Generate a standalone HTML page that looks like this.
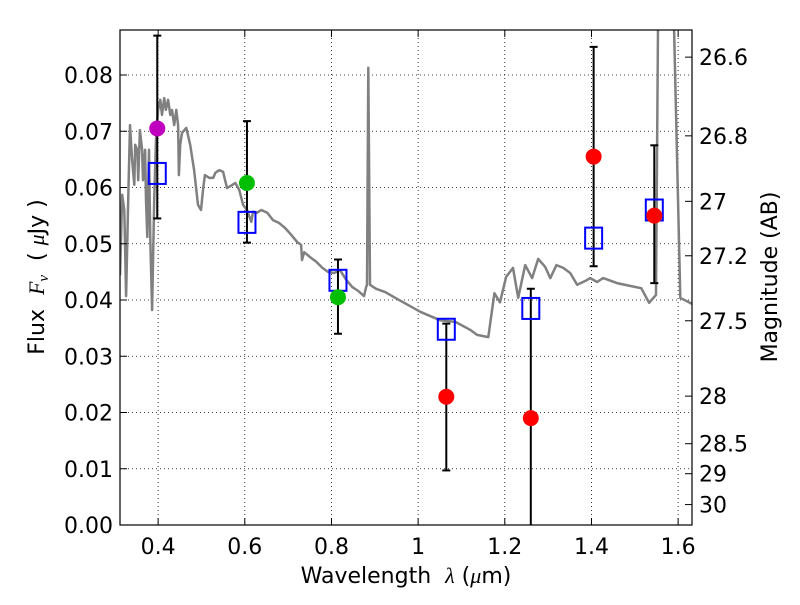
<!DOCTYPE html>
<html><head><meta charset="utf-8"><style>
body{margin:0;background:#fff}
svg text{font-family:"DejaVu Sans","Liberation Sans",sans-serif;fill:#000;white-space:pre}
</style></head><body>
<svg id="c" width="800" height="600" xmlns="http://www.w3.org/2000/svg">
<defs><clipPath id="clip"><rect x="120" y="30" width="572" height="495"/></clipPath></defs>
<rect width="800" height="600" fill="#fff"/>
<g id="grid"></g>
<g id="spec" clip-path="url(#clip)"></g>
<g id="marks" clip-path="url(#clip)"></g>
<rect x="120" y="30" width="572" height="495" fill="none" stroke="#000" stroke-width="1.2"/>
<g id="axes"></g>
<text x="406" y="583" font-size="22" text-anchor="middle" xml:space="preserve">Wavelength  <tspan font-style="italic" font-family="Liberation Serif">λ</tspan> (<tspan font-style="italic" font-family="Liberation Serif">μ</tspan>m)</text>
<text transform="translate(44,277) rotate(-90)" font-size="22" text-anchor="middle" xml:space="preserve">Flux  <tspan font-style="italic" font-family="Liberation Serif">F<tspan font-size="15" dy="4">ν</tspan></tspan><tspan dy="-4">  ( </tspan><tspan font-style="italic" font-family="Liberation Serif">μ</tspan>Jy )</text>
<text transform="translate(777,277) rotate(-90)" font-size="22" text-anchor="middle">Magnitude (AB)</text>
</svg>
<script>
const specWl=[0.312,0.317,0.322,0.326,0.331,0.335,0.340,0.345,0.347,0.352,0.354,0.358,0.363,0.365,0.370,0.372,0.375,0.379,0.382,0.386,0.391,0.395,0.400,0.405,0.409,0.414,0.418,0.423,0.428,0.432,0.437,0.442,0.446,0.448,0.451,0.455,0.465,0.474,0.483,0.492,0.499,0.504,0.508,0.518,0.527,0.532,0.541,0.550,0.559,0.568,0.578,0.587,0.596,0.605,0.615,0.619,0.628,0.638,0.652,0.665,0.679,0.693,0.707,0.721,0.730,0.732,0.737,0.751,0.765,0.779,0.792,0.806,0.820,0.834,0.848,0.862,0.875,0.880,0.882,0.885,0.889,0.903,0.924,0.947,1.005,1.051,1.086,1.120,1.136,1.162,1.176,1.189,1.203,1.219,1.231,1.247,1.263,1.277,1.293,1.305,1.319,1.335,1.351,1.367,1.386,1.397,1.413,1.427,1.459,1.489,1.515,1.533,1.549,1.554,1.589,1.605,1.632];
const specFlux=[0.0444,0.0587,0.0560,0.0407,0.0578,0.0711,0.0649,0.0605,0.0676,0.0667,0.0613,0.0702,0.0667,0.0613,0.0667,0.0578,0.0512,0.0667,0.0507,0.0382,0.0578,0.0685,0.0738,0.0756,0.0729,0.0759,0.0738,0.0756,0.0729,0.0738,0.0711,0.0738,0.0711,0.0622,0.0676,0.0697,0.0706,0.0676,0.0631,0.0569,0.0560,0.0599,0.0622,0.0617,0.0617,0.0626,0.0631,0.0628,0.0599,0.0603,0.0608,0.0596,0.0569,0.0560,0.0539,0.0557,0.0555,0.0560,0.0555,0.0542,0.0537,0.0528,0.0516,0.0503,0.0498,0.0471,0.0485,0.0476,0.0468,0.0457,0.0450,0.0448,0.0453,0.0436,0.0423,0.0416,0.0407,0.0423,0.0427,0.0813,0.0427,0.0420,0.0414,0.0404,0.0379,0.0364,0.0361,0.0347,0.0338,0.0334,0.0412,0.0396,0.0441,0.0457,0.0404,0.0462,0.0439,0.0473,0.0459,0.0439,0.0462,0.0457,0.0448,0.0427,0.0434,0.0439,0.0432,0.0439,0.0430,0.0425,0.0421,0.0395,0.0409,0.0933,0.0933,0.0404,0.0393];
const modelWl=[0.398,0.605,0.815,1.065,1.26,1.405,1.545];
const modelFlux=[0.0625,0.0538,0.0435,0.0348,0.0385,0.051,0.056];
const obsWl=[0.398,0.605,0.815,1.065,1.26,1.405,1.545];
const obsFlux=[0.0705,0.0608,0.0405,0.0228,0.019,0.0655,0.055];
const obsLo=[0.0545,0.0502,0.034,0.0097,-0.01,0.046,0.043];
const obsHi=[0.087,0.0718,0.0472,0.0358,0.042,0.085,0.0675];
const obsColor=['#bf00bf','#00bf00','#00bf00','#ff0000','#ff0000','#ff0000','#ff0000'];
const xTicks=[0.4,0.6,0.8,1.0,1.2,1.4,1.6];
const xTickLabels=['0.4','0.6','0.8','1','1.2','1.4','1.6'];
const yTicks=[0,0.01,0.02,0.03,0.04,0.05,0.06,0.07,0.08];
const yTickLabels=['0.00','0.01','0.02','0.03','0.04','0.05','0.06','0.07','0.08'];
const magTicks=[26.6,26.8,27,27.2,27.5,28,28.5,29,30];
const magTickLabels=['26.6','26.8','27','27.2','27.5','28','28.5','29','30'];

const X0=120,X1=692,Y0=525,Y1=30,xmin=0.312,xmax=1.632,ymin=0,ymax=0.088;
const sx=v=>X0+(v-xmin)/(xmax-xmin)*(X1-X0);
const sy=v=>Y0-(v-ymin)/(ymax-ymin)*(Y0-Y1);
const magToFlux=m=>Math.pow(10,(23.9-m)/2.5);
const NS='http://www.w3.org/2000/svg';
function mk(tag,attrs,parent){const e=document.createElementNS(NS,tag);for(const k in attrs)e.setAttribute(k,attrs[k]);parent.appendChild(e);return e;}
const grid=document.getElementById('grid'),axes=document.getElementById('axes'),spec=document.getElementById('spec'),marks=document.getElementById('marks');
const gs={stroke:'#000','stroke-width':0.8,'stroke-dasharray':'1,3'};
xTicks.forEach((t,i)=>{
  const x=sx(t);
  const g=mk('line',Object.assign({x1:x,x2:x,y1:Y1,y2:Y0},gs),grid);
  
  
  const a=mk('line',{x1:x,x2:x,y1:Y0,y2:Y0-7,stroke:'#000'},axes);
  
  
  const b=mk('line',{x1:x,x2:x,y1:Y1,y2:Y1+7,stroke:'#000'},axes);
  
  
  const tx=mk('text',{x:x,y:554,'font-size':22,'text-anchor':'middle'},axes);
  tx.textContent=xTickLabels[i];
  
  
});
yTicks.forEach((t,i)=>{
  const y=sy(t);
  const g=mk('line',Object.assign({x1:X0,x2:X1,y1:y,y2:y},gs),grid);
  
  
  const a=mk('line',{x1:X0,x2:X0+7,y1:y,y2:y,stroke:'#000'},axes);
  
  
  const tx=mk('text',{x:113,y:y+8,'font-size':22,'text-anchor':'end'},axes);
  tx.textContent=yTickLabels[i];
  
  
});
magTicks.forEach((m,i)=>{
  const y=sy(magToFlux(m));
  const a=mk('line',{x1:X1,x2:X1-7,y1:y,y2:y,stroke:'#000'},axes);
  
  
  const tx=mk('text',{x:699,y:y+8,'font-size':22},axes);
  tx.textContent=magTickLabels[i];
  
  
});
const p=mk('polyline',{points:specWl.map((w,i)=>sx(w).toFixed(1)+','+sy(specFlux[i]).toFixed(1)).join(' '),fill:'none',stroke:'#808080','stroke-width':2.5,'stroke-linejoin':'round'},spec);


obsWl.forEach((w,i)=>{
  const x=sx(w),yl=sy(obsLo[i]),yh=sy(obsHi[i]);
  const e=mk('line',{x1:x,x2:x,y1:yl,y2:yh,stroke:'#000','stroke-width':2},marks);
  
  
  [yl,yh].forEach(y=>{const c=mk('line',{x1:x-4,x2:x+4,y1:y,y2:y,stroke:'#000','stroke-width':2},marks);
    
    });
});
modelWl.forEach((w,i)=>{
  const r=mk('rect',{x:sx(w)-8.5,y:sy(modelFlux[i])-10.5,width:17,height:21,fill:'none',stroke:'#0000ff','stroke-width':2},marks);
  
  
});
obsWl.forEach((w,i)=>{
  const c=mk('circle',{cx:sx(w),cy:sy(obsFlux[i]),r:8,fill:obsColor[i]},marks);
  
  
});
</script>
</body></html>
